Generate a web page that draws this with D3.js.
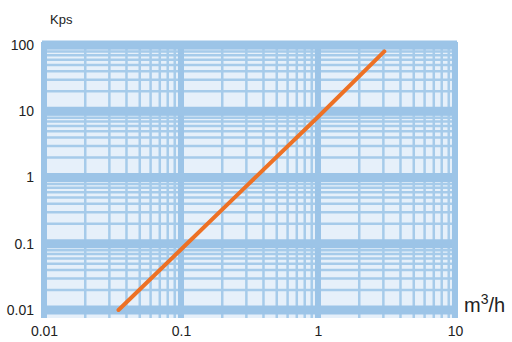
<!DOCTYPE html>
<html>
<head>
<meta charset="utf-8">
<script src="https://cdn.jsdelivr.net/npm/d3@7"></script>
<style>
  body { margin: 0; background: #fff; }
  text { font-family: "Liberation Sans", Arial, sans-serif; fill: #222; }
</style>
</head>
<body>
<div id="chart"></div>
<script>
// flow rate (m3/h) and pressure loss (Kps)
var flowValues = [0.035, 0.1, 0.3, 1, 3.05];
var kpsValues = [0.01, 0.082, 0.74, 8.2, 80];

var xTickValues = [0.01, 0.1, 1, 10];
var xTickLabels = ["0.01", "0.1", "1", "10"];
var yTickValues = [0.01, 0.1, 1, 10, 100];
var yTickLabels = ["0.01", "0.1", "1", "10", "100"];

var svgWidth = 512;
var svgHeight = 342;

var svg = d3.select("#chart")
  .append("svg")
  .attr("width", svgWidth)
  .attr("height", svgHeight);

var xScale = d3.scaleLog().domain([0.01, 10]).range([44, 455]);
var yScale = d3.scaleLog().domain([0.01, 100]).range([310, 45]);

// plot background
svg.append("rect")
  .attr("x", 42).attr("y", 42)
  .attr("width", 415).attr("height", 276)
  .attr("fill", "#e6f0fa");

var grid = svg.append("g");

// minor grid lines: 2..9 in each decade
var minorX = [];
var minorY = [];
[0.01, 0.1, 1].forEach(function(d) {
  for (var k = 2; k <= 9; k++) minorX.push(d * k);
});
[0.01, 0.1, 1, 10].forEach(function(d) {
  for (var k = 2; k <= 9; k++) minorY.push(d * k);
});

grid.selectAll(".minor-x")
  .data(minorX)
  .enter()
  .append("line")
  .attr("x1", d => xScale(d)).attr("x2", d => xScale(d))
  .attr("y1", 42).attr("y2", 318)
  .attr("stroke", "#a6cbea")
  .attr("stroke-width", 2.5);

grid.selectAll(".minor-y")
  .data(minorY)
  .enter()
  .append("line")
  .attr("y1", d => yScale(d)).attr("y2", d => yScale(d))
  .attr("x1", 42).attr("x2", 457)
  .attr("stroke", "#a6cbea")
  .attr("stroke-width", 2.5);

// major grid bands
grid.selectAll(".major-x")
  .data(xTickValues)
  .enter()
  .append("line")
  .attr("x1", d => xScale(d)).attr("x2", d => xScale(d))
  .attr("y1", 42).attr("y2", 318)
  .attr("stroke", "#9cc4e7")
  .attr("stroke-width", 6);

grid.selectAll(".major-y")
  .data(yTickValues)
  .enter()
  .append("line")
  .attr("y1", d => yScale(d)).attr("y2", d => yScale(d))
  .attr("x1", 42).attr("x2", 457)
  .attr("stroke", "#9cc4e7")
  .attr("stroke-width", 9);

// the line
var line = d3.line()
  .x((d, i) => xScale(flowValues[i]))
  .y(d => yScale(d));

svg.append("path")
  .datum(kpsValues)
  .attr("d", line)
  .attr("fill", "none")
  .attr("stroke", "#ed7125")
  .attr("stroke-width", 4)
  .attr("stroke-linecap", "round");

// axis labels
var xAxis = d3.axisBottom(xScale)
  .tickValues(xTickValues)
  .tickFormat((d, i) => xTickLabels[i])
  .tickSize(0)
  .tickPadding(8);

var xg = svg.append("g")
  .attr("transform", "translate(0, 318)")
  .call(xAxis);
xg.select(".domain").remove();
xg.selectAll("text").attr("font-size", 14).style("font-family", "Liberation Sans, Arial, sans-serif").attr("fill", "#222");

var yAxis = d3.axisLeft(yScale)
  .tickValues(yTickValues)
  .tickFormat((d, i) => yTickLabels[i])
  .tickSize(0)
  .tickPadding(8);

var yg = svg.append("g")
  .attr("transform", "translate(42, 0)")
  .call(yAxis);
yg.select(".domain").remove();
yg.selectAll("text").attr("font-size", 14).style("font-family", "Liberation Sans, Arial, sans-serif").attr("fill", "#222");

svg.append("text")
  .attr("x", 50).attr("y", 24)
  .attr("font-size", 13)
  .text("Kps");

var unit = svg.append("text")
  .attr("x", 464).attr("y", 312)
  .attr("font-size", 20);
unit.append("tspan").text("m");
unit.append("tspan").attr("dy", -8).attr("font-size", 14).text("3");
unit.append("tspan").attr("dy", 8).text("/h");
</script>
</body>
</html>
